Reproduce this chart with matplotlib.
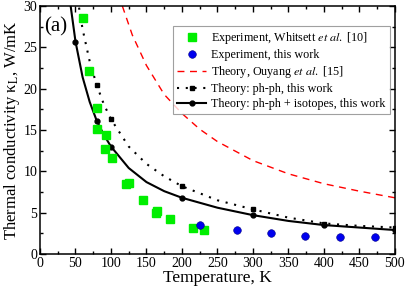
import numpy as np
from matplotlib import pyplot as plt
from matplotlib.ticker import MultipleLocator

plt.rcParams['font.family'] = ['Liberation Serif', 'DejaVu Serif']
plt.rcParams['mathtext.fontset'] = 'stix'

# Experiment, Whitsett et al.
T_whit = [60, 69.5, 80.8, 80, 93, 92, 102, 121, 126, 145.5, 163, 165, 183, 215, 230.5]
k_whit = [28.5, 22.1, 17.7, 15.1, 14.4, 12.7, 11.6, 8.5, 8.6, 6.5, 5.0, 5.2, 4.2, 3.2, 2.9]

# Experiment, this work
T_exp = [226, 277, 325, 373, 422.5, 472]
k_exp = [3.45, 2.9, 2.5, 2.2, 2.05, 2.0]

# Theory, Ouyang et al.
T_ouy = [116, 130, 150, 175, 200, 225, 250, 300, 350, 400, 450, 500]
k_ouy = [30.0, 26.5, 22.8, 19.3, 17.0, 15.1, 13.6, 11.3, 9.7, 8.5, 7.6, 6.8]

# Theory: ph-ph (computed points + points)
T_ph = [50, 80, 100, 200, 300, 400, 500]
k_ph = [32.6, 20.4, 16.3, 8.2, 5.4, 3.6, 3.2]
T_ph_line = [50, 55, 60, 70, 80, 90, 100, 125, 150, 175, 200, 250, 300, 350, 400, 450, 500]
k_ph_line = [32.6, 29.8, 27.2, 23.3, 20.4, 18.1, 16.3, 13.0, 10.9, 9.4, 8.2, 6.5, 5.4, 4.4, 3.7, 3.4, 3.2]

# Theory: ph-ph + isotopes
T_iso = [50, 80, 100, 200, 300, 400, 500]
k_iso = [25.7, 16.1, 13.0, 6.8, 4.7, 3.5, 2.9]
T_iso_line = [40, 50, 60, 70, 80, 90, 100, 125, 150, 175, 200, 250, 300, 350, 400, 450, 500]
k_iso_line = [32.0, 25.7, 21.4, 18.4, 16.1, 14.4, 13.0, 10.4, 8.7, 7.6, 6.8, 5.6, 4.7, 4.0, 3.5, 3.2, 2.9]

fig = plt.figure(figsize=(4.07, 2.87), dpi=100)
ax = fig.add_axes([0.0983, 0.115, 0.872, 0.864])

ax.plot(T_ouy, k_ouy, color='red', ls=(0, (5, 4)), lw=1.0,
        label=r'Theory, Ouyang $\it{et\ al.}$ [15]')
ax.plot(T_ph_line, k_ph_line, color='black', ls=(0, (1, 3.2)), lw=1.5)
ax.plot(T_ph, k_ph, color='black', ls='none', marker='s', ms=3.5)
ax.plot(T_iso_line, k_iso_line, color='black', ls='-', lw=1.5)
ax.plot(T_iso, k_iso, color='black', ls='none', marker='o', ms=3.5)
ax.plot(T_whit, k_whit, ls='none', marker='s', ms=5.5, color='#00ee00',
        label=r'Experiment, Whitsett $\it{et\ al.}$ [10]')
ax.plot(T_exp, k_exp, ls='none', marker='o', ms=5.5, color='#0000ee',
        markeredgecolor='#000088', markeredgewidth=0.4,
        label='Experiment, this work')

# legend proxies
from matplotlib.lines import Line2D
handles = [
    Line2D([], [], ls='none', marker='s', ms=5.5, color='#00ee00'),
    Line2D([], [], ls='none', marker='o', ms=5.5, color='#0000ee',
           markeredgecolor='#000088', markeredgewidth=0.4),
    Line2D([], [], color='red', ls=(0, (5, 4)), lw=1.0),
    Line2D([], [], color='black', ls=(0, (1, 3.2)), lw=1.5, marker='s', ms=3.5),
    Line2D([], [], color='black', ls='-', lw=1.5, marker='o', ms=3.5),
]
labels = [
    r'Experiment, Whitsett $\it{et\ al.}$ [10]',
    'Experiment, this work',
    r'Theory, Ouyang $\it{et\ al.}$ [15]',
    'Theory: ph-ph, this work',
    'Theory: ph-ph + isotopes, this work',
]
leg = ax.legend(handles, labels, loc='upper right', bbox_to_anchor=(0.995, 0.935),
                fontsize=8.7, frameon=True, fancybox=False, handlelength=2.4,
                handletextpad=0.4, labelspacing=0.25, borderpad=0.35, borderaxespad=0.3)
leg.get_frame().set_edgecolor('#888888')
leg.get_frame().set_linewidth(0.8)

ax.set_xlim(0, 500)
ax.set_ylim(0, 30)
ax.xaxis.set_major_locator(MultipleLocator(50))
ax.xaxis.set_minor_locator(MultipleLocator(25))
ax.yaxis.set_major_locator(MultipleLocator(5))
ax.yaxis.set_minor_locator(MultipleLocator(2.5))
ax.tick_params(which='both', direction='in', top=True, right=True, labelsize=10, pad=2)
ax.tick_params(which='major', length=4, width=1)
ax.tick_params(which='minor', length=2.5, width=1)
for s in ax.spines.values():
    s.set_linewidth(1.1)

ax.set_xlabel('Temperature, K', fontsize=12.5, labelpad=0)
ax.set_ylabel(r'Thermal conductivity κ$_\mathrm{L}$, W/mK', fontsize=12, labelpad=1)
ax.text(0.012, 0.955, '(a)', transform=ax.transAxes, fontsize=15, va='top', ha='left')

fig.savefig('out.png', dpi=100)
